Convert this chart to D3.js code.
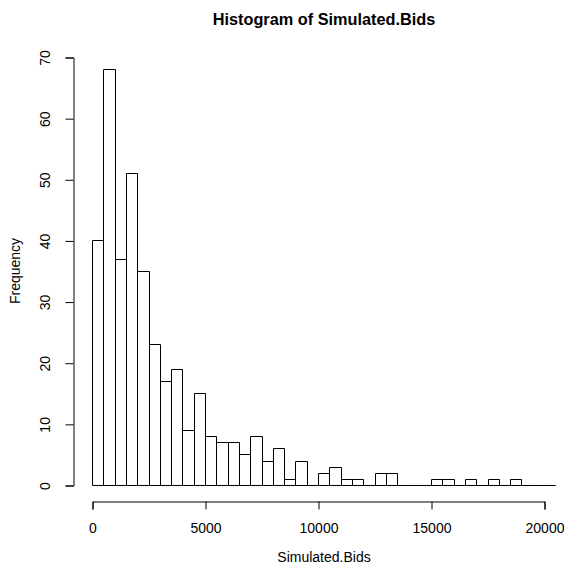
<!DOCTYPE html>
<html>
<head>
<meta charset="utf-8">
<script src="https://cdn.jsdelivr.net/npm/d3@7"></script>
<style>
  body { margin: 0; background: #fff; overflow: hidden; }
  svg { display: block; }
  text { font-family: "Liberation Sans", Arial, sans-serif; fill: #000; }
</style>
</head>
<body>
<div class="chart"></div>
<script>
'use strict';
// histogram counts, bins of 500 starting at 0
var binWidth = 500;
var counts = [40, 68, 37, 51, 35, 23, 17, 19, 9, 15,
              8, 7, 7, 5, 8, 4, 6, 1, 4, 0,
              2, 3, 1, 1, 0, 2, 2, 0, 0, 0,
              1, 1, 0, 1, 0, 1, 0, 1, 0, 0, 0];
var xTicks = [0, 5000, 10000, 15000, 20000];
var yTicks = [0, 10, 20, 30, 40, 50, 60, 70];
var titleText = "Histogram of Simulated.Bids";
var xLabel = "Simulated.Bids";
var yLabel = "Frequency";

var bins = counts.map(function (c, i) { return { x0: i * binWidth, x1: (i + 1) * binWidth, n: c }; });

var W = 566, H = 566;
var svg = d3.select(".chart").append("svg")
  .attr("width", W).attr("height", H);

// plot region runs 74..574 (right edge falls outside the picture)
var xScale = d3.scaleLinear().domain([0, 20000]).range([92, 544]);
var yScale = d3.scaleLinear().domain([0, 70]).range([485, 57]);
var plotMid = 324, plotMidY = 271;

var px = function (v) { return Math.round(v) + 0.5; };

// bars (zero bins become a flat line like R)
svg.append("g").selectAll("path")
  .data(bins)
  .enter().append("path")
    .attr("d", function (d) {
      var a = px(xScale(d.x0)), b = px(xScale(d.x1));
      var y0 = px(yScale(0)), y1 = px(yScale(d.n));
      return "M" + a + "," + y0 + "V" + y1 + "H" + b + "V" + y0 + "Z";
    })
    .attr("fill", "#fff")
    .attr("stroke", "#000")
    .attr("stroke-width", 1);

// axes
var xAxis = d3.axisBottom(xScale).tickValues(xTicks).tickSize(8).tickSizeOuter(8)
  .tickFormat(d3.format("d"));
var yAxis = d3.axisLeft(yScale).tickValues(yTicks).tickSize(8).tickSizeOuter(8);

var gx = svg.append("g")
  .attr("transform", "translate(0.5,501.5)")
  .call(xAxis);
gx.selectAll("text")
  .attr("dy", null).attr("y", 31.5)
  .attr("font-size", 14).attr("fill", "#000");

var gy = svg.append("g")
  .attr("transform", "translate(73.5,0.5)")
  .call(yAxis);
gy.selectAll(".tick text")
  .attr("x", null).attr("dy", null).attr("y", null)
  .attr("text-anchor", "middle")
  .attr("font-size", 14).attr("fill", "#000")
  .attr("transform", "translate(-23.5,0) rotate(-90)");

svg.selectAll(".domain, .tick line").attr("stroke", "#000");
svg.selectAll(".tick text").attr("font-family", "Liberation Sans, Arial, sans-serif");

// titles
svg.append("text")
  .attr("x", plotMid).attr("y", 25)
  .attr("text-anchor", "middle")
  .attr("font-size", 16.3).attr("font-weight", "bold")
  .text(titleText);

svg.append("text")
  .attr("x", plotMid).attr("y", 562)
  .attr("text-anchor", "middle")
  .attr("font-size", 14)
  .text(xLabel);

svg.append("text")
  .attr("transform", "translate(20," + plotMidY + ") rotate(-90)")
  .attr("text-anchor", "middle")
  .attr("font-size", 14)
  .text(yLabel);
</script>
</body>
</html>
